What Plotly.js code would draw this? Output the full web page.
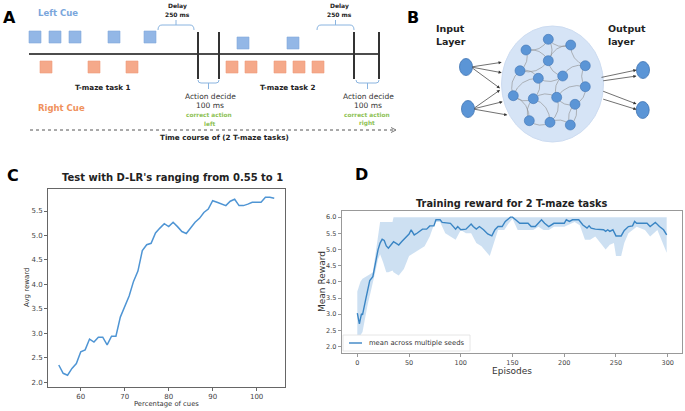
<!DOCTYPE html>
<html><head><meta charset="utf-8">
<script src="https://cdn.plot.ly/plotly-3.0.1.min.js"></script>
<style>html,body{margin:0;padding:0;background:#fff}#chart{width:685px;height:411px}</style>
</head><body><div id="chart"></div>
<script>
// ---- Panel C data ----
const cueX = [55,56,57,58,59,60,61,62,63,64,65,66,67,68,69,70,71,72,73,74,75,76,77,78,79,80,81,82,83,84,85,86,87,88,89,90,91,92,93,94,95,96,97,98,99,100,101,102,103,104];
const avgReward = [2.35,2.18,2.14,2.28,2.38,2.62,2.66,2.88,2.82,2.92,2.92,2.76,2.94,2.94,3.33,3.56,3.76,4.06,4.27,4.69,4.81,4.84,5.05,5.15,5.24,5.18,5.27,5.18,5.08,5.04,5.15,5.27,5.35,5.47,5.54,5.71,5.68,5.64,5.61,5.70,5.74,5.61,5.61,5.64,5.68,5.68,5.68,5.78,5.78,5.76];
const cTicksX = [60,70,80,90,100];
const cTicksY = [2.0,2.5,3.0,3.5,4.0,4.5,5.0,5.5];

// ---- Panel D data ----
const meanEp = [0,2,4,5,8,10,12,15,18,20,22,24,26,28,30,32,35,38,40,43,46,50,52,55,58,60,63,67,70,74,76,80,82,90,93,95,97,100,105,108,110,112,115,118,122,126,130,133,136,140,143,148,150,153,157,165,168,172,175,178,181,185,190,200,202,205,208,214,218,222,224,226,230,238,240,242,244,247,250,255,258,262,266,268,270,275,280,283,288,292,296,299];
const meanReward = [3.03,2.70,3.01,2.98,3.44,3.80,4.04,4.16,4.68,4.99,5.20,5.32,5.28,5.11,5.04,5.11,5.24,5.18,5.14,5.25,5.35,5.48,5.61,5.45,5.51,5.56,5.63,5.63,5.73,5.73,5.92,5.92,5.84,5.81,5.71,5.63,5.71,5.61,5.63,5.71,5.79,5.71,5.63,5.71,5.61,5.48,5.42,5.61,5.71,5.71,5.87,6.00,6.00,5.92,5.81,5.81,5.71,5.71,5.81,5.92,5.81,5.71,5.81,5.81,5.92,5.87,5.92,5.92,5.76,5.66,5.73,5.66,5.63,5.61,5.56,5.61,5.56,5.61,5.42,5.42,5.59,5.71,5.73,5.87,5.81,5.81,5.81,5.71,5.84,5.71,5.61,5.45];
const bandEp = [0,3,5,8,10,13,15,18,20,22,25,28,30,34,35,40,45,50,55,60,65,70,75,80,85,90,95,100,105,110,115,120,125,128,132,136,142,146,150,155,160,165,170,175,180,185,190,200,210,215,220,225,230,235,240,244,248,250,255,258,262,266,270,278,283,290,294,299];
const bandHigh = [3.7,4.0,4.1,4.15,4.2,4.25,4.3,4.9,5.4,5.85,5.85,5.85,5.85,5.85,6.0,6.0,6.0,6.0,6.0,6.0,6.0,6.0,6.0,6.0,6.0,6.0,6.0,6.0,6.0,6.0,6.0,6.0,6.0,6.0,6.0,6.0,6.0,6.0,6.0,6.0,6.0,6.0,6.0,6.0,6.0,6.0,6.0,6.0,6.0,6.0,6.0,6.0,6.0,6.0,6.0,6.0,6.0,6.0,6.0,6.0,6.0,6.0,6.0,6.0,6.0,6.0,6.0,6.0];
const bandLow = [2.35,2.35,2.45,3.0,3.3,3.7,3.95,4.4,4.7,4.85,4.6,4.3,4.3,4.35,4.3,4.2,4.4,4.8,4.9,5.0,5.1,5.4,5.85,5.85,5.5,5.4,5.3,5.6,5.5,5.5,5.2,5.1,4.9,4.8,5.2,5.6,5.6,5.8,5.95,5.6,5.6,5.6,5.6,5.7,5.6,5.6,5.7,5.7,5.85,5.75,5.3,5.3,5.4,5.2,5.0,5.15,5.2,4.8,4.8,5.2,5.5,5.6,5.7,5.6,5.4,5.6,5.3,4.9];
const dTicksX = [0,50,100,150,200,250,300];
const dTicksY = [2.0,2.5,3.0,3.5,4.0,4.5,5.0,5.5,6.0];
const legendLabel = 'mean across multiple seeds';

// ---- Panel A diagram data (diagram units = px) ----
const leftCueTask1 = [35,55,75,114,150];
const leftCueTask2 = [243,293];
const rightCueTask1 = [46,94,132];
const rightCueTask2 = [232,251,280,299,318];
const decisionBars = [198,219,354,379];

// ---- Panel B diagram data ----
const hiddenX = [548.3,526,570.7,548.3,520,585.3,538.3,562.7,585.3,513.3,533.3,556.7,575,529.3,550,570.3];
const hiddenY = [39.3,50,45,60.7,70.7,65.7,78.3,76,86.7,95.7,98.7,97.3,104.3,120.7,122.3,125];
const hiddenEdges = [[0,1],[0,2],[1,3],[2,3],[3,4],[3,7],[4,6],[6,7],[7,5],[5,8],[8,12],[7,11],[6,10],[9,10],[10,11],[11,12],[9,13],[13,14],[14,15],[12,15],[10,14],[4,9],[1,4],[2,5],[11,14],[6,9],[0,3],[8,11],[13,10],[15,12]];
const ioX = [466,468,643,642.7];
const ioY = [67,109,70,110];

const FONT = 'DejaVu Sans, Arial, sans-serif';
const shapes = [], ann = [];
const X3 = {xref:'x3', yref:'y3'};
function txt(x,y,t,size,opts){ ann.push(Object.assign({x:x,y:y,xref:'x3',yref:'y3',text:t,showarrow:false,xanchor:'center',yanchor:'middle',font:{family:FONT,size:size,color:'#222'}},opts||{})); }
function arrow(x0,y0,x1,y1){ ann.push({x:x1,y:y1,ax:x0,ay:y0,xref:'x3',yref:'y3',axref:'x3',ayref:'y3',text:'',showarrow:true,arrowhead:2,arrowsize:0.9,arrowwidth:0.7,arrowcolor:'#333',standoff:0,startstandoff:0}); }

// Panel A
shapes.push(Object.assign({type:'line',x0:29,x1:380,y0:54,y1:54,line:{color:'#111',width:1.6}},X3));
decisionBars.forEach(b=>shapes.push(Object.assign({type:'line',x0:b,x1:b,y0:32,y1:79,line:{color:'#333',width:2}},X3)));
function topBracket(a,b){ const m=(a+b)/2; shapes.push(Object.assign({type:'path',path:`M${a},30 Q${a},25 ${a+4},25 L${b-4},25 Q${b},25 ${b},30 M${m},25 L${m},20`,line:{color:'#8ab4e0',width:1}},X3)); }
function botBracket(a,b){ const m=(a+b)/2; shapes.push(Object.assign({type:'path',path:`M${a},80 Q${a},83 ${a+3},83 L${b-3},83 Q${b},83 ${b},80 M${m},83 L${m},89`,line:{color:'#8ab4e0',width:1}},X3)); }
topBracket(158,194); topBracket(317,354);
botBracket(198,219); botBracket(356,379);
shapes.push(Object.assign({type:'line',x0:30,x1:395,y0:130,y1:130,line:{color:'#555',width:1,dash:'dot'}},X3));
shapes.push(Object.assign({type:'path',path:'M391,127.5 L396,130 L391,132.5',line:{color:'#555',width:0.8}},X3));
txt(9,17,'<b>A</b>',16,{font:{family:FONT,size:16,color:'#000'}});
txt(36,13,'<b>Left Cue</b>',8.5,{xanchor:'left',font:{family:FONT,size:8.5,color:'#7aa6dc'}});
txt(36,108,'<b>Right Cue</b>',8.5,{xanchor:'left',font:{family:FONT,size:8.5,color:'#f0915c'}});
[[177.5,'<b>Delay</b>',6],[177.5,'<b>250 ms</b>',14],[339,'<b>Delay</b>',6],[339,'<b>250 ms</b>',14]].forEach(d=>txt(d[0],d[2],d[1],6));
txt(103,87,'<b>T-maze task 1</b>',7.2);
txt(288,87,'<b>T-maze task 2</b>',7.2);
[[210,'left'],[368,'right']].forEach(d=>{
  txt(d[0],96,'Action decide',7.5,{font:{family:FONT,size:7.5,color:'#333'}});
  txt(d[0],105.5,'100 ms',7.5,{font:{family:FONT,size:7.5,color:'#333'}});
  txt(d[0]-1,115,'<b>correct action</b>',5.8,{font:{family:FONT,size:5.8,color:'#8cc152'}});
  txt(d[0]-1,123.5,'<b>'+d[1]+'</b>',5.8,{font:{family:FONT,size:5.8,color:'#8cc152'}});
});
txt(224,137,'<b>Time course of (2 T-maze tasks)</b>',7.2);

// Panel B
txt(413,17,'<b>B</b>',16,{font:{family:FONT,size:16,color:'#000'}});
txt(434,28,'<b>Input</b>',9.5,{xanchor:'left'});
txt(434,41,'<b>Layer</b>',9.5,{xanchor:'left'});
txt(606,28,'<b>Output</b>',9.5,{xanchor:'left'});
txt(606,41,'<b>layer</b>',9.5,{xanchor:'left'});
shapes.push(Object.assign({type:'circle',x0:501.5,x1:603.5,y0:26,y1:142,fillcolor:'#d6e4f6',line:{color:'#cddcf1',width:1},layer:'below'},X3));
hiddenEdges.forEach((e,i)=>{
  const a=e[0],b=e[1];
  const x0=hiddenX[a],y0=hiddenY[a],x1=hiddenX[b],y1=hiddenY[b];
  const dx=x1-x0,dy=y1-y0,L=Math.hypot(dx,dy)||1,s=(i%2?1:-1)*0.35*L;
  const cx=(x0+x1)/2-dy/L*s, cy=(y0+y1)/2+dx/L*s;
  shapes.push(Object.assign({type:'path',path:`M${x0},${y0} Q${cx},${cy} ${x1},${y1}`,line:{color:'#8c8c8c',width:0.6},layer:'below'},X3));
});
ioX.forEach((x,i)=>shapes.push(Object.assign({type:'circle',x0:x-6.5,x1:x+6.5,y0:ioY[i]-8.5,y1:ioY[i]+8.5,fillcolor:'#5b95d6',line:{color:'#3f74b3',width:0.8}},X3)));
[[501.7,62.3],[501.7,72.7],[500,88.3]].forEach(p=>arrow(ioX[0]+5,ioY[0],p[0],p[1]));
[[500,90],[502.7,101.7],[507.3,115]].forEach(p=>arrow(ioX[1]+5,ioY[1],p[0],p[1]));
arrow(600,77.7,636.5,70); arrow(601.7,81,636.5,76);
arrow(601.7,90.7,636.5,104); arrow(601.7,98.7,636.5,109.5);

// Panel C / D labels
txt(13,175,'<b>C</b>',16,{font:{family:FONT,size:16,color:'#000'}});
txt(172,177,"<b>Test with D-LR's ranging from 0.55 to 1</b>",10);
txt(27,288,'Avg reward',7,{textangle:-90,font:{family:FONT,size:7,color:'#333'}});
txt(166,404,'Percentage of cues',6.8,{font:{family:FONT,size:6.8,color:'#333'}});
txt(361,174,'<b>D</b>',16,{font:{family:FONT,size:16,color:'#000'}});
txt(512,203,'<b>Training reward for 2 T-maze tasks</b>',9.8);
txt(512,371,'Episodes',9,{font:{family:FONT,size:9,color:'#333'}});
txt(322,282,'Mean Reward',9,{textangle:-90,font:{family:FONT,size:9,color:'#333'}});

// Panel D legend (drawn as box + sample + label)
shapes.push(Object.assign({type:'rect',x0:343,x1:470,y0:335,y1:351,fillcolor:'rgba(255,255,255,0.85)',line:{color:'#e0e0e0',width:0.8}},X3));
shapes.push(Object.assign({type:'line',x0:349,x1:362,y0:343,y1:343,line:{color:'#3a85c4',width:1.4}},X3));
txt(367,343,legendLabel,6.8,{xanchor:'left',font:{family:FONT,size:6.8,color:'#333'}});

const traces = [
  {x:cueX,y:avgReward,xaxis:'x',yaxis:'y',type:'scatter',mode:'lines',line:{color:'#4f95d4',width:1.5},showlegend:false},
  {x:bandEp,y:bandLow,xaxis:'x2',yaxis:'y2',type:'scatter',mode:'lines',line:{width:0,color:'rgba(0,0,0,0)'},showlegend:false},
  {x:bandEp,y:bandHigh,xaxis:'x2',yaxis:'y2',type:'scatter',mode:'lines',fill:'tonexty',fillcolor:'rgba(100,160,215,0.32)',line:{width:0,color:'rgba(0,0,0,0)'},showlegend:false},
  {x:meanEp,y:meanReward,xaxis:'x2',yaxis:'y2',type:'scatter',mode:'lines',name:legendLabel,line:{color:'#3a85c4',width:1.4},showlegend:false},
  {x:leftCueTask1,y:leftCueTask1.map(()=>37),xaxis:'x3',yaxis:'y3',type:'scatter',mode:'markers',marker:{symbol:'square',size:12,color:'#93b7e6',line:{color:'#82a8db',width:0.6}},showlegend:false},
  {x:leftCueTask2,y:leftCueTask2.map(()=>43),xaxis:'x3',yaxis:'y3',type:'scatter',mode:'markers',marker:{symbol:'square',size:12,color:'#93b7e6',line:{color:'#82a8db',width:0.6}},showlegend:false},
  {x:rightCueTask1.concat(rightCueTask2),y:rightCueTask1.concat(rightCueTask2).map(()=>67),xaxis:'x3',yaxis:'y3',type:'scatter',mode:'markers',marker:{symbol:'square',size:12,color:'#f5a98a',line:{color:'#ee9a78',width:0.6}},showlegend:false},
  {x:hiddenX,y:hiddenY,xaxis:'x3',yaxis:'y3',type:'scatter',mode:'markers',marker:{symbol:'circle',size:10,color:'#5b95d6',line:{color:'#3f74b3',width:0.6}},showlegend:false}
];

const axC = {showline:true,mirror:true,linecolor:'#666',linewidth:1,ticks:'outside',ticklen:3,tickcolor:'#666',showgrid:false,zeroline:false,tickfont:{family:FONT,size:7,color:'#444'}};
const layout = {
  width:685,height:411,margin:{l:0,r:0,t:0,b:0},paper_bgcolor:'#fff',plot_bgcolor:'rgba(0,0,0,0)',
  font:{family:FONT},
  xaxis:Object.assign({},axC,{domain:[48/685,285/685],range:[52.55,106.45],tickvals:cTicksX,anchor:'y'}),
  yaxis:Object.assign({},axC,{domain:[1-387/411,1-189/411],range:[1.90,5.95],tickvals:cTicksY,tickformat:'.1f',anchor:'x'}),
  xaxis2:Object.assign({},axC,{domain:[341.7/685,682/685],range:[-15.1,313.8],tickvals:dTicksX,anchor:'y2',linecolor:'#999',tickcolor:'#999',tickfont:{family:FONT,size:6.5,color:'#444'}}),
  yaxis2:Object.assign({},axC,{domain:[1-352.7/411,1-210.7/411],range:[1.81,6.2],tickvals:dTicksY,tickformat:'.1f',anchor:'x2',linecolor:'#999',tickcolor:'#999',tickfont:{family:FONT,size:6.5,color:'#444'}}),
  xaxis3:{domain:[0,1],range:[0,685],visible:false,anchor:'y3',fixedrange:true},
  yaxis3:{domain:[0,1],range:[411,0],visible:false,anchor:'x3',fixedrange:true},
  showlegend:false,
  shapes:shapes,annotations:ann
};
Plotly.newPlot('chart',traces,layout,{staticPlot:true,displayModeBar:false});
</script></body></html>
